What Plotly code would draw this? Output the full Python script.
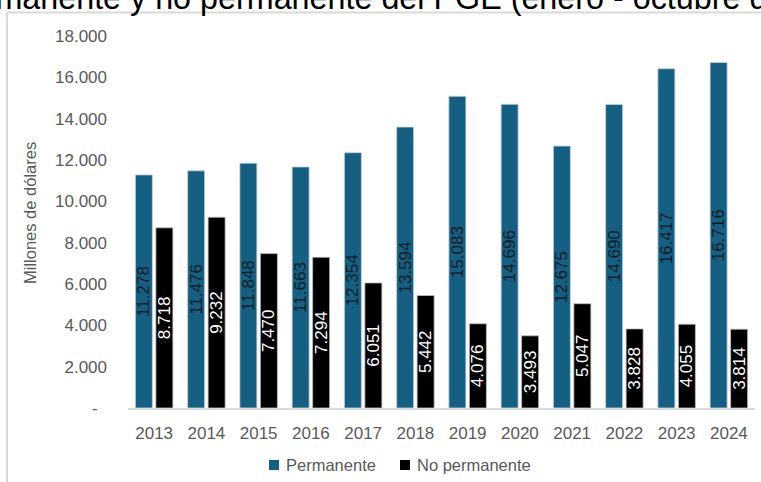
import plotly.graph_objects as go

# Ingresos del PGE, enero-octubre, millones de dólares
years = ["2013", "2014", "2015", "2016", "2017", "2018",
         "2019", "2020", "2021", "2022", "2023", "2024"]
permanente = [11278, 11476, 11848, 11663, 12354, 13594,
              15083, 14696, 12675, 14690, 16417, 16716]
no_permanente = [8718, 9232, 7470, 7294, 6051, 5442,
                 4076, 3493, 5047, 3828, 4055, 3814]

y_tick_values = [0, 2000, 4000, 6000, 8000, 10000, 12000, 14000, 16000, 18000]
y_tick_labels = ["-  ", "2.000", "4.000", "6.000", "8.000", "10.000",
                 "12.000", "14.000", "16.000", "18.000"]

W, H = 761, 482
ML, MR, MT, MB = 128, 6, 36, 74
PW, PH = W - ML - MR, H - MT - MB


def px_x(p):
    return (p - ML) / PW


def px_y(p):
    return (H - MB - p) / PH


BLUE = "#156082"
BLACK = "#000000"
GREY_TXT = "#595959"
FONT = "Liberation Sans, Arial, sans-serif"

series = [
    ("Permanente", permanente, BLUE, "#c9d3d9", "#0c1c26"),
    ("No permanente", no_permanente, BLACK, "#bfbfbf", "#ffffff"),
]

fig = go.Figure()
for name, values, fill, edge, txt in series:
    fig.add_trace(go.Bar(
        x=years, y=values, name=name,
        marker=dict(color=fill, line=dict(color=edge, width=0.8)),
        texttemplate="%{y:,.0f}", textposition="inside",
        insidetextanchor="middle", textangle=-90,
        textfont=dict(family=FONT, size=17, color=txt),
    ))

fig.update_layout(
    width=W, height=H,
    margin=dict(l=ML, r=MR, t=MT, b=MB, autoexpand=False),
    paper_bgcolor="white", plot_bgcolor="white",
    separators=",.",
    barmode="group", bargap=0.215, bargroupgap=0.17,
    uniformtext=dict(minsize=17, mode="show"),
    font=dict(family=FONT, size=16, color=GREY_TXT),
    showlegend=False,
    xaxis=dict(
        showline=True, linecolor="#d9d9d9", linewidth=1.5,
        showgrid=False, ticks="", ticklabelstandoff=9,
        tickfont=dict(size=17, color=GREY_TXT), automargin=False,
    ),
    yaxis=dict(
        range=[0, 18000], showgrid=False, zeroline=False, showline=False,
        tickvals=y_tick_values, ticktext=y_tick_labels,
        ticks="", ticklabelstandoff=20,
        tickfont=dict(size=17, color=GREY_TXT), automargin=False,
    ),
)

# Leyenda: cuadro de color + nombre de la serie
legend_items = [(series[0][0], BLUE, 269), (series[1][0], BLACK, 400)]
for name, fill, x0 in legend_items:
    fig.add_shape(type="rect", xref="paper", yref="paper",
                  x0=px_x(x0), x1=px_x(x0 + 10),
                  y0=px_y(470), y1=px_y(460),
                  fillcolor=fill, line=dict(width=0))
    fig.add_annotation(
        text=name, xref="paper", yref="paper",
        x=px_x(x0 + 15), y=px_y(465), xanchor="left", yanchor="middle",
        showarrow=False, font=dict(family=FONT, size=16.5, color=GREY_TXT),
    )

# Título (recortado en el borde superior)
fig.add_annotation(
    text="Ingreso permanente y no permanente del PGE (enero - octubre de cada año)",
    xref="paper", yref="paper", x=px_x(-170), y=px_y(-2),
    xanchor="left", yanchor="middle", showarrow=False,
    font=dict(family=FONT, size=32.3, color="#000000"),
)

# Título del eje Y
fig.add_annotation(
    text="Millones de dólares",
    xref="paper", yref="paper", x=px_x(30), y=px_y(213),
    xanchor="center", yanchor="middle", textangle=-90, showarrow=False,
    font=dict(family=FONT, size=16.5, color=GREY_TXT),
)

# Marco del área del gráfico
fig.add_shape(type="line", xref="paper", yref="paper",
              x0=px_x(7), x1=px_x(7), y0=px_y(12.5), y1=px_y(500),
              line=dict(color="#d9d9d9", width=2))
fig.add_shape(type="line", xref="paper", yref="paper",
              x0=px_x(7), x1=px_x(800), y0=px_y(12.5), y1=px_y(12.5),
              line=dict(color="#d9d9d9", width=2))

fig.write_html("out.html")
